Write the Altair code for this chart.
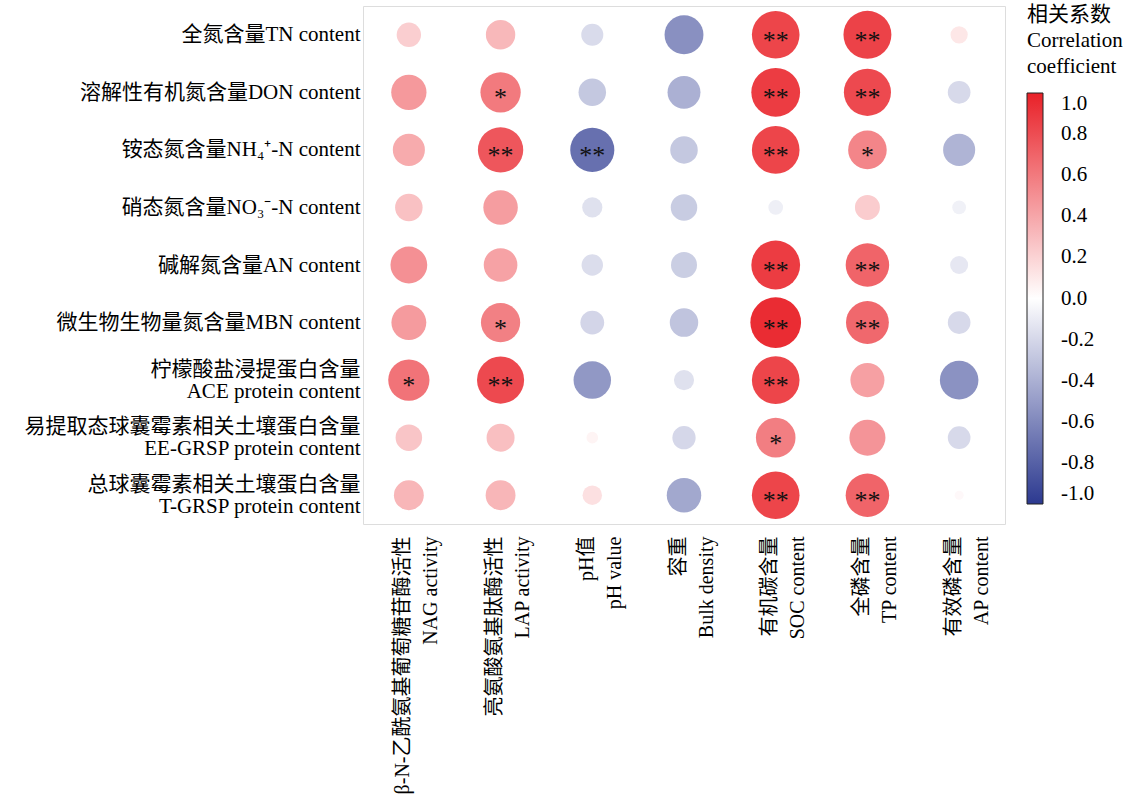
import altair as alt
import pandas as pd

# Row (y) and column (x) labels; "|" separates the two lines of a label
row_labels = [
    "全氮含量TN content",
    "溶解性有机氮含量DON content",
    "铵态氮含量NH₄⁺-N content",
    "硝态氮含量NO₃⁻-N content",
    "碱解氮含量AN content",
    "微生物生物量氮含量MBN content",
    "柠檬酸盐浸提蛋白含量|ACE protein content",
    "易提取态球囊霉素相关土壤蛋白含量|EE-GRSP protein content",
    "总球囊霉素相关土壤蛋白含量|T-GRSP protein content",
]
col_labels = [
    "β-N-乙酰氨基葡萄糖苷酶活性|NAG activity",
    "亮氨酸氨基肽酶活性|LAP activity",
    "pH值|pH value",
    "容重|Bulk density",
    "有机碳含量|SOC content",
    "全磷含量|TP content",
    "有效磷含量|AP content",
]

# Correlation coefficients (one list per row, in column order)
r_TN = [0.22, 0.32, -0.18, -0.56, 0.84, 0.85, 0.11]
r_DON = [0.46, 0.60, -0.28, -0.40, 0.88, 0.82, -0.19]
r_NH4 = [0.38, 0.76, -0.72, -0.28, 0.84, 0.55, -0.38]
r_NO3 = [0.28, 0.44, -0.15, -0.26, -0.08, 0.23, -0.07]
r_AN = [0.50, 0.42, -0.17, -0.25, 0.88, 0.70, -0.12]
r_MBN = [0.45, 0.57, -0.21, -0.30, 0.95, 0.68, -0.19]
r_ACE = [0.63, 0.82, -0.52, -0.15, 0.84, 0.43, -0.55]
r_EE = [0.26, 0.29, 0.05, -0.20, 0.58, 0.48, -0.19]
r_TG = [0.33, 0.33, 0.14, -0.44, 0.84, 0.70, 0.03]

# Significance marks
s_TN = ["", "", "", "", "**", "**", ""]
s_DON = ["", "*", "", "", "**", "**", ""]
s_NH4 = ["", "**", "**", "", "**", "*", ""]
s_NO3 = ["", "", "", "", "", "", ""]
s_AN = ["", "", "", "", "**", "**", ""]
s_MBN = ["", "*", "", "", "**", "**", ""]
s_ACE = ["*", "**", "", "", "**", "", ""]
s_EE = ["", "", "", "", "*", "", ""]
s_TG = ["", "", "", "", "**", "**", ""]

r_rows = [r_TN, r_DON, r_NH4, r_NO3, r_AN, r_MBN, r_ACE, r_EE, r_TG]
s_rows = [s_TN, s_DON, s_NH4, s_NO3, s_AN, s_MBN, s_ACE, s_EE, s_TG]

records = []
for rl, rv, sv in zip(row_labels, r_rows, s_rows):
    for cl, v, s in zip(col_labels, rv, sv):
        records.append({"row": rl, "col": cl, "r": v, "absr": abs(v), "sig": s})
df = pd.DataFrame(records)

SERIF = "Liberation Serif, Times New Roman, Noto Sans CJK SC"

x_enc = alt.X(
    "col:N", sort=col_labels, title=None,
    scale=alt.Scale(paddingInner=0, paddingOuter=0),
    axis=alt.Axis(
        ticks=False, tickSize=0, tickOpacity=0, tickColor="transparent",
        domain=False,
        labelAngle=-90, labelAlign="right", labelBaseline="middle",
        labelPadding=12, labelLineHeight=28, labelFontSize=20, labelOffset=-6,
        labelFont=SERIF, labelColor="#000", labelLimit=0, labelOverlap=False,
        labelExpr="split(datum.label, '|')",
    ),
)
y_enc = alt.Y(
    "row:N", sort=row_labels, title=None,
    scale=alt.Scale(paddingInner=0, paddingOuter=0),
    axis=alt.Axis(
        ticks=False, tickSize=0, tickOpacity=0, tickColor="transparent",
        domain=False,
        labelPadding=3, labelLineHeight=22, labelFontSize=21,
        labelOffset={"condition": {"test": "indexof(datum.value, '|') >= 0", "value": -11}, "value": 0},
        labelFont=SERIF, labelColor="#000", labelLimit=0, labelOverlap=False,
        labelExpr="split(datum.label, '|')",
    ),
)

base = alt.Chart(df).encode(x=x_enc, y=y_enc)

circles = base.mark_circle(opacity=1).encode(
    size=alt.Size("absr:Q", scale=alt.Scale(domain=[0, 1], range=[0, 2704]), legend=None),
    color=alt.Color(
        "r:Q",
        scale=alt.Scale(domain=[-1, 0, 1], range=["#2c3990", "#ffffff", "#e92128"], interpolate="rgb"),
        legend=alt.Legend(
            title=["相关系数", "Correlation", "coefficient"],
            orient="none", legendX=664, legendY=-2, direction="vertical",
            gradientLength=411, gradientThickness=16,
            gradientStrokeColor="#222", gradientStrokeWidth=1,
            values=[1.0, 0.8, 0.6, 0.4, 0.2, 0.0, -0.2, -0.4, -0.6, -0.8, -1.0],
            labelExpr="replace(format(datum.value, '.1f'), '\u2212', '-')",
            labelFont=SERIF, labelFontSize=21, labelColor="#000", labelOffset=18,
            labelOverlap=False,
            titleFont=SERIF, titleFontSize=21, titleFontWeight="normal", titleColor="#000",
            titleAlign="left", titleAnchor="start", titleLineHeight=26, titlePadding=16,
        ),
    ),
)

stars = base.mark_text(
    font="Liberation Serif", fontSize=26, baseline="alphabetic", dy=14, color="#111"
).encode(text="sig:N")

chart = (
    alt.layer(circles, stars)
    .properties(
        width=642, height=518,
        autosize=alt.AutoSizeParams(type="none"),
        padding={"left": 363, "top": 6, "right": 137, "bottom": 283},
    )
    .configure_view(stroke="#6e6e6e", strokeWidth=2)
    .configure_axis(
        grid=True, gridColor="#d6d6d6", gridWidth=1.5,
        domain=False, ticks=False, tickSize=0, tickBand="extent",
    )
    .configure(background="white")
)

chart.save("out.html", embed_options={"renderer": "svg", "actions": False})
